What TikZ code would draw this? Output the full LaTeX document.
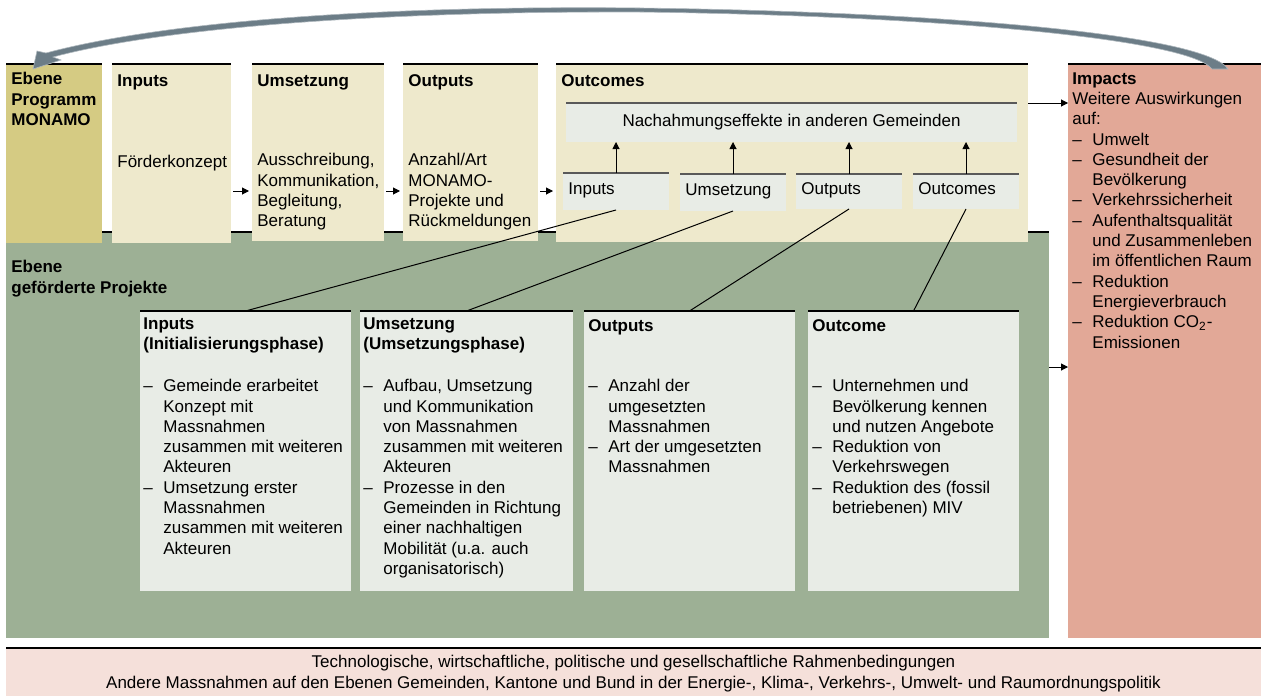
\documentclass[tikz,border=0pt]{standalone}
\usepackage{fontspec}
\setmainfont{Liberation Sans}
\usetikzlibrary{arrows.meta,fit,calc}

\definecolor{gold}{RGB}{213,203,131}
\definecolor{cream}{RGB}{238,233,204}
\definecolor{sage}{RGB}{157,176,149}
\definecolor{mist}{RGB}{232,236,230}
\definecolor{salmon}{RGB}{226,168,151}
\definecolor{blush}{RGB}{245,224,218}
\definecolor{slate}{RGB}{108,125,135}

\tikzstyle{area}=[inner sep=0pt, outer sep=0pt]
\tikzstyle{top rule}=[draw, line width=0.7pt, black]
\tikzstyle{grey rule}=[draw, line width=0.8pt, black!65]
\tikzstyle{txt}=[inner sep=0pt, anchor=north west, align=left, font=\fontsize{8.5}{10.15}\selectfont, execute at begin node=\strut]
\tikzstyle{head}=[txt, font=\fontsize{8.5}{10.15}\selectfont\bfseries]
\tikzstyle{flow}=[draw, line width=0.5pt, -{Triangle[length=3.5pt,width=3.5pt]}]
\tikzstyle{link}=[draw, line width=0.5pt]

\newcommand{\dashit}{\makebox[10pt][l]{--}}
\newcommand{\gapit}{\hspace*{10pt}}

\begin{document}
\begin{tikzpicture}[x=0.5pt, y=-0.5pt]
	\useasboundingbox (0,0) rectangle (1261,696);
	\node[area, fill=sage, fit={(6,232) (1049,638)}] (proj) {};
	\path[top rule] (proj.north west) -- (proj.north east);
	\node[area, fill=salmon, fit={(1068,64) (1261,638)}] (imp) {};
	\path[top rule] (imp.north west) -- (imp.north east);
	\node[area, fill=blush, fit={(6,648) (1261,696)}] (band) {};
	\path[top rule] (band.north west) -- (band.north east);
	\foreach \xa/\ya/\xb/\yb/\name/\col in {6/64/102/243/prog/gold, 112/64/231/243/inA/cream, 252/64/384/241/umA/cream, 403/64/538/241/outA/cream, 556/64/1028/242/ocA/cream, 140/311/351/591/phIn/mist, 360/311/573/591/phUm/mist, 584/311/795/591/phOut/mist, 808/311/1019/591/phOc/mist}
	{
		\node[area, fill=\col, fit={(\xa,\ya) (\xb,\yb)}] (\name) {};
		\path[top rule] (\name.north west) -- (\name.north east);
	}
	\foreach \xa/\ya/\xb/\yb/\name in {566/103/1017/142/nach, 563/173/669/210/smIn, 680/174/786/211/smUm, 796/174/902/209/smOut, 913/174/1019/209/smOc}
	{
		\node[area, fill=mist, fit={(\xa,\ya) (\xb,\yb)}] (\name) {};
		\path[grey rule] (\name.north west) -- (\name.north east);
	}

	\node[head] (progT) at ($(prog.north west)+(5,8)$) {Ebene\\Programm\\MONAMO};
	\foreach \name/\txt in {inA/Inputs, umA/Umsetzung, outA/Outputs, ocA/Outcomes}
		\node[head] (\name T) at ($(\name.north west)+(5,8)$) {\txt};
	\node[txt] (inAB) at ($(inA.north west)+(5,89)$) {Förderkonzept};
	\node[txt] (umAB) at ($(umA.north west)+(5,89)$) {Ausschreibung,\\Kommunikation,\\Begleitung,\\Beratung};
	\node[txt] (outAB) at ($(outA.north west)+(5,89)$) {Anzahl/Art\\MONAMO-\\Projekte und\\Rückmeldungen};
	\node[txt, anchor=base] (nachT) at ($(nach.center)+(0,4)$) {Nachahmungseffekte in anderen Gemeinden};
	\foreach \name/\txt in {smIn/Inputs, smUm/Umsetzung, smOut/Outputs, smOc/Outcomes}
		\node[txt, anchor=base west] (\name T) at ($(\name.west)+(5,3)$) {\txt};
	\node[txt] (impT) at ($(imp.north west)+(4,8)$) {\textbf{Impacts}\\Weitere Auswirkungen\\auf:\\\dashit Umwelt\\\dashit Gesundheit der\\\gapit Bevölkerung\\\dashit Verkehrssicherheit\\\dashit Aufenthaltsqualität\\\gapit und Zusammenleben\\\gapit im öffentlichen Raum\\\dashit Reduktion\\\gapit Energieverbrauch\\\dashit Reduktion CO\textsubscript{2}-\\\gapit Emissionen};

	\node[head] (projT) at ($(proj.north west)+(5,28)$) {Ebene\\geförderte Projekte};
	\node[head] (phInT) at ($(phIn.north west)+(3,6)$) {Inputs\\(Initialisierungsphase)};
	\node[head] (phUmT) at ($(phUm.north west)+(3,6)$) {Umsetzung\\(Umsetzungsphase)};
	\node[head] (phOutT) at ($(phOut.north west)+(4,6)$) {Outputs};
	\node[head] (phOcT) at ($(phOc.north west)+(4,6)$) {Outcome};
	\node[txt] (phInL) at ($(phIn.north west)+(3,68)$) {\dashit Gemeinde erarbeitet\\\gapit Konzept mit\\\gapit Massnahmen\\\gapit zusammen mit weiteren\\\gapit Akteuren\\\dashit Umsetzung erster\\\gapit Massnahmen\\\gapit zusammen mit weiteren\\\gapit Akteuren};
	\node[txt] (phUmL) at ($(phUm.north west)+(3,68)$) {\dashit Aufbau, Umsetzung\\\gapit und Kommunikation\\\gapit von Massnahmen\\\gapit zusammen mit weiteren\\\gapit Akteuren\\\dashit Prozesse in den\\\gapit Gemeinden in Richtung\\\gapit einer nachhaltigen\\\gapit Mobilität (u.a. auch\\\gapit organisatorisch)};
	\node[txt] (phOutL) at ($(phOut.north west)+(4,68)$) {\dashit Anzahl der\\\gapit umgesetzten\\\gapit Massnahmen\\\dashit Art der umgesetzten\\\gapit Massnahmen};
	\node[txt] (phOcL) at ($(phOc.north west)+(4,68)$) {\dashit Unternehmen und\\\gapit Bevölkerung kennen\\\gapit und nutzen Angebote\\\dashit Reduktion von\\\gapit Verkehrswegen\\\dashit Reduktion des (fossil\\\gapit betriebenen) MIV};
	\node[txt, anchor=center, align=center] (bandT) at ($(band.center)+(0,3)$) {Technologische, wirtschaftliche, politische und gesellschaftliche Rahmenbedingungen\\Andere Massnahmen auf den Ebenen Gemeinden, Kantone und Bund in der Energie-, Klima-, Verkehrs-, Umwelt- und Raumordnungspolitik};

	\coordinate (row) at (0,191);
	\coordinate (mid) at (0,367);
	\foreach \source/\dest in {inA/umA, umA/outA, outA/ocA}
		\path[flow, shorten <=1pt, shorten >=1.5pt] (\source.east |- row) -- (\dest.west |- row);
	\foreach \source in {smIn, smUm, smOut, smOc}
		\path[flow] (\source.north) -- (\source.north |- nach.south);
	\foreach \source/\dest in {smIn/phIn, smUm/phUm, smOut/phOut, smOc/phOc}
		\path[link] (\source.south) -- (\dest.north);
	\path[flow] (ocA.east |- nach.north) -- (imp.west |- nach.north);
	\path[flow] (proj.east |- mid) -- (imp.west |- mid);

	\path[fill=slate, draw=slate!55, line width=0.3pt] (1228,69) .. controls (1205,35) and (950,12) .. (640,8) .. controls (350,5) and (150,25) .. (46,53) -- (37,51) -- (33,69) -- (61,60) -- (53,57) .. controls (150,31) and (350,11) .. (640,12) .. controls (950,16) and (1190,40) .. (1212,69) -- cycle;
\end{tikzpicture}
\end{document}
